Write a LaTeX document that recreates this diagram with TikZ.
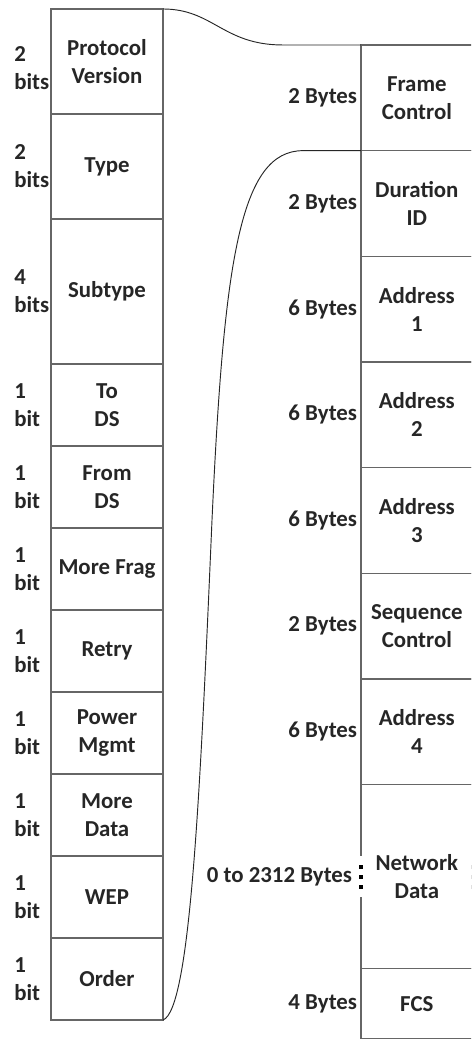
\documentclass[tikz,border=0pt]{standalone}
\usepackage{fontspec}
\setmainfont{Carlito}
\usetikzlibrary{positioning,calc}

\newcommand{\fieldfont}{\fontsize{19.5}{24}\selectfont\bfseries}

\begin{document}
\begin{tikzpicture}[line cap=round,
			field/.style={draw=black!60,line width=1.2pt,minimum width=3.36cm,inner sep=0pt,outer sep=0pt,align=center,text=black!85,font=\fieldfont},
			bits/.style={text width=1.0cm,align=left,inner sep=0.1cm,outer sep=0pt,text=black!85,font=\fieldfont},
			bytes/.style={inner sep=0.12cm,outer sep=0pt,text=black!85,font=\fieldfont},
			link/.style={draw=black!85,line width=0.8pt}]
			\useasboundingbox (0,0) rectangle (14.13,31.17);
			\clip (0,0) rectangle (14.13,31.17);
			
			% frame control bits
			\node[field,minimum height=3.15cm,anchor=north west] (proto) at (1.53,30.90) {Protocol\\Version};
			\node[field,minimum height=3.15cm,below=0pt of proto] (type) {Type};
			\node[field,minimum height=4.35cm,below=0pt of type] (subtype) {Subtype};
			\node[field,minimum height=2.46cm,below=0pt of subtype] (tods) {To\\DS};
			\node[field,minimum height=2.46cm,below=0pt of tods] (fromds) {From\\DS};
			\node[field,minimum height=2.46cm,below=0pt of fromds] (frag) {More Frag};
			\node[field,minimum height=2.46cm,below=0pt of frag] (retry) {Retry};
			\node[field,minimum height=2.46cm,below=0pt of retry] (pwr) {Power\\Mgmt};
			\node[field,minimum height=2.46cm,below=0pt of pwr] (more) {More\\Data};
			\node[field,minimum height=2.46cm,below=0pt of more] (wep) {WEP};
			\node[field,minimum height=2.46cm,below=0pt of wep] (order) {Order};
			
			\node[bits,left=0pt of proto,yshift=-0.2cm] (proto-w) {2\\bits};
			\node[bits,left=0pt of type] (type-w) {2\\bits};
			\node[bits,left=0pt of subtype] (subtype-w) {4\\bits};
			\node[bits,left=0pt of tods] (tods-w) {1\\bit};
			\node[bits,left=0pt of fromds] (fromds-w) {1\\bit};
			\node[bits,left=0pt of frag] (frag-w) {1\\bit};
			\node[bits,left=0pt of retry] (retry-w) {1\\bit};
			\node[bits,left=0pt of pwr] (pwr-w) {1\\bit};
			\node[bits,left=0pt of more] (more-w) {1\\bit};
			\node[bits,left=0pt of wep] (wep-w) {1\\bit};
			\node[bits,left=0pt of order] (order-w) {1\\bit};
			
			% mac frame
			\node[field,minimum width=3.35cm,minimum height=3.17cm,anchor=north west] (frame) at (10.83,29.82) {Frame\\Control};
			\node[field,minimum width=3.35cm,minimum height=3.17cm,below=0pt of frame] (dur) {Duration\\ID};
			\node[field,minimum width=3.35cm,minimum height=3.17cm,below=0pt of dur] (addr1) {Address\\1};
			\node[field,minimum width=3.35cm,minimum height=3.17cm,below=0pt of addr1] (addr2) {Address\\2};
			\node[field,minimum width=3.35cm,minimum height=3.17cm,below=0pt of addr2] (addr3) {Address\\3};
			\node[field,minimum width=3.35cm,minimum height=3.17cm,below=0pt of addr3] (seq) {Sequence\\Control};
			\node[field,minimum width=3.35cm,minimum height=3.17cm,below=0pt of seq] (addr4) {Address\\4};
			\node[field,minimum width=3.35cm,minimum height=5.52cm,below=0pt of addr4] (data) {Network\\Data};
			\node[field,minimum width=3.35cm,minimum height=2.1cm,below=0pt of data] (fcs) {FCS};
			
			\node[bytes,left=0pt of frame] (frame-w) {2 Bytes};
			\node[bytes,left=0pt of dur] (dur-w) {2 Bytes};
			\node[bytes,left=0pt of addr1] (addr1-w) {6 Bytes};
			\node[bytes,left=0pt of addr2] (addr2-w) {6 Bytes};
			\node[bytes,left=0pt of addr3] (addr3-w) {6 Bytes};
			\node[bytes,left=0pt of seq] (seq-w) {2 Bytes};
			\node[bytes,left=0pt of addr4] (addr4-w) {6 Bytes};
			\node[bytes,left=0.15cm of data] (data-w) {0 to 2312 Bytes};
			\node[bytes,left=0pt of fcs] (fcs-w) {4 Bytes};
			
			% variable length: break the sides of the data field
			\foreach \side in {west,east}
			{\fill[white] ($(data.\side)+(-0.1,-0.62)$) rectangle ($(data.\side)+(0.1,0.62)$);
				\foreach \dy in {0.3,0,-0.3}
				\fill[black] ($(data.\side)+(-0.06,\dy-0.06)$) rectangle ++(0.12,0.12);}
			
			% zoom lines
			\draw[link] (proto.north east) .. controls +(1.5,0) and +(-1.8,0) .. ($(frame.north west)+(-2.34,0)$) -- (frame.north west);
			\coordinate (bend) at (6.36,15.57);
			\draw[link] (order.south east) .. controls +(0.81,0.3) and +(-0.36,-8.4) .. (bend)
				.. controls +(0.36,7.8) and +(-1.89,0) .. ($(dur.north west)+(-1.74,0)$) -- (dur.north west);
		\end{tikzpicture}
\end{document}
